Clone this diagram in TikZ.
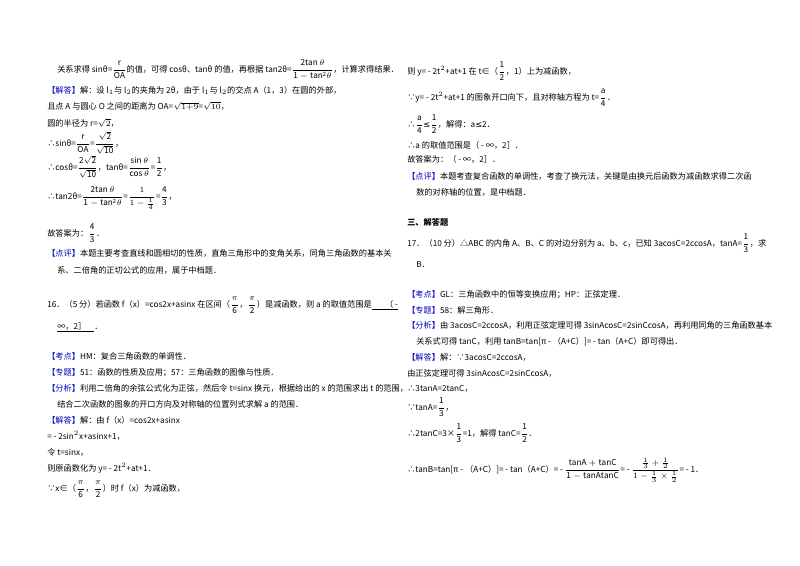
\documentclass[tikz,border=0pt]{standalone}
\usepackage{amsmath}
\usepackage{fontspec}
\setmainfont{Noto Sans CJK SC}
\newfontfamily\dv{DejaVu Sans}
\newcommand{\fr}[2]{$\dfrac{\mathrm{#1}}{\mathrm{#2}}$}
\newcommand{\lab}[1]{\textcolor{blue!75!black}{【#1】}}
\begin{document}
\begin{tikzpicture}[x=0.75pt,y=-0.75pt,
  ln/.style={anchor=base west,inner sep=0pt,font=\fontsize{6.15}{8}\selectfont}]
\useasboundingbox (0,0) rectangle (800,565);
\fill[white] (0,0) rectangle (800,565);
% left column
\node[ln] (l1) at (57,72) {关系求得 sinθ=\fr{r}{OA}的值，可得 cosθ、tanθ 的值，再根据 tan2θ=\fr{2tan\,\theta}{1-tan^2\theta}，计算求得结果．};
\node[ln] (l2) at (47,93) {\lab{解答}解：设 l$_1$与 l$_2$的夹角为 2θ，由于 l$_1$与 l$_2$的交点 A（1，3）在圆的外部，};
\node[ln] (l3) at (47,109) {且点 A 与圆心 O 之间的距离为 OA=$\sqrt{1{+}9}$=$\sqrt{10}$，};
\node[ln] (l4) at (47,126) {圆的半径为 r=$\sqrt{2}$，};
\node[ln] (l5) at (47,146) {∴sinθ=\fr{r}{OA}=\fr{\sqrt{2}}{\sqrt{10}}，};
\node[ln] (l6) at (47,170) {∴cosθ=\fr{2\sqrt{2}}{\sqrt{10}}，tanθ=\fr{sin\,\theta}{cos\,\theta}=\fr{1}{2}，};
\node[ln] (l7) at (47,199) {∴tan2θ=\fr{2tan\,\theta}{1-tan^2\theta}=$\dfrac{1}{1-\frac14}$=\fr{4}{3}，};
\node[ln] (l8) at (47,236) {故答案为：\fr{4}{3}．};
\node[ln] (l9) at (47,256) {\lab{点评}本题主要考查直线和圆相切的性质，直角三角形中的变角关系，同角三角函数的基本关};
\node[ln] (l10) at (57,273) {系、二倍角的正切公式的应用，属于中档题．};
\node[ln] (l11) at (47,307) {16．（5 分）若函数 f（x）=cos2x+asinx 在区间（\fr{\pi}{6}，\fr{\pi}{2}）是减函数，则 a 的取值范围是\underline{\hspace{10pt}（ -}};
\node[ln] (l12) at (57,329) {\underline{∞，2］\hspace{6pt}}．};
\node[ln] (l13) at (47,359) {\lab{考点}HM：复合三角函数的单调性．};
\node[ln] (l14) at (47,375) {\lab{专题}51：函数的性质及应用；57：三角函数的图像与性质．};
\node[ln] (l15) at (47,391) {\lab{分析}利用二倍角的余弦公式化为正弦，然后令 t=sinx 换元，根据给出的 x 的范围求出 t 的范围，};
\node[ln] (l16) at (57,407) {结合二次函数的图象的开口方向及对称轴的位置列式求解 a 的范围．};
\node[ln] (l17) at (47,423) {\lab{解答}解：由 f（x）=cos2x+asinx};
\node[ln] (l18) at (47,439) {= - 2sin$^2$x+asinx+1，};
\node[ln] (l19) at (47,455) {令 t=sinx，};
\node[ln] (l20) at (47,471) {则原函数化为 y= - 2t$^2$+at+1．};
\node[ln] (l21) at (47,491) {∵x∈（\fr{\pi}{6}，\fr{\pi}{2}）时 f（x）为减函数，};
% right column
\node[ln] (r1) at (407,74) {则 y= - 2t$^2$+at+1 在 t∈（\fr{1}{2}，1）上为减函数，};
\node[ln] (r2) at (407,100) {∵y= - 2t$^2$+at+1 的图象开口向下，且对称轴方程为 t=\fr{a}{4}．};
\node[ln] (r3) at (407,127) {∴\fr{a}{4}{\dv≤}\fr{1}{2}，解得：a{\dv≤}2．};
\node[ln] (r4) at (407,148) {∴a 的取值范围是（ - ∞，2］．};
\node[ln] (r5) at (407,162) {故答案为：（ - ∞，2］．};
\node[ln] (r6) at (407,179) {\lab{点评}本题考查复合函数的单调性，考查了换元法，关键是由换元后函数为减函数求得二次函};
\node[ln] (r7) at (416,195) {数的对称轴的位置，是中档题．};
\node[ln,font=\fontsize{6.15}{8}\selectfont\bfseries] (r8) at (407,225) {三、解答题};
\node[ln] (r9) at (407,246) {17．（10 分）△ABC 的内角 A、B、C 的对边分别为 a、b、c，已知 3acosC=2ccosA，tanA=\fr{1}{3}，求};
\node[ln] (r10) at (416,267) {B．};
\node[ln] (r11) at (407,297) {\lab{考点}GL：三角函数中的恒等变换应用；HP：正弦定理．};
\node[ln] (r12) at (407,313) {\lab{专题}58：解三角形．};
\node[ln] (r13) at (407,328) {\lab{分析}由 3acosC=2ccosA，利用正弦定理可得 3sinAcosC=2sinCcosA，再利用同角的三角函数基本};
\node[ln] (r14) at (416,344) {关系式可得 tanC，利用 tanB=tan[π - （A+C）]= - tan（A+C）即可得出．};
\node[ln] (r15) at (407,360) {\lab{解答}解：∵3acosC=2ccosA，};
\node[ln] (r16) at (407,376) {由正弦定理可得 3sinAcosC=2sinCcosA，};
\node[ln] (r17) at (407,391) {∴3tanA=2tanC，};
\node[ln] (r18) at (407,410) {∵tanA=\fr{1}{3}，};
\node[ln] (r19) at (407,436) {∴2tanC=3×\fr{1}{3}=1，解得 tanC=\fr{1}{2}．};
\node[ln] (r20) at (407,472) {∴tanB=tan[π - （A+C）]= - tan（A+C）= - \fr{tanA+tanC}{1-tanAtanC}= - $\dfrac{\frac13+\frac12}{1-\frac13\times\frac12}$= - 1．};
\end{tikzpicture}
\end{document}
